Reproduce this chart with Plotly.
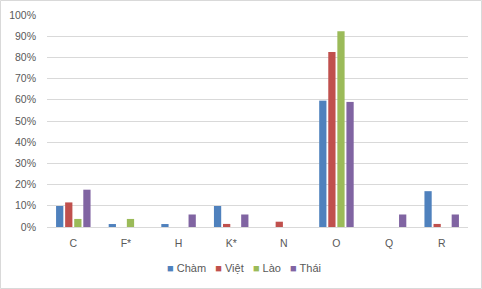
import plotly.graph_objects as go

categories = ["C", "F*", "H", "K*", "N", "O", "Q", "R"]
cham = [0.099, 0.014, 0.014, 0.099, 0.0, 0.596, 0.0, 0.169]
viet = [0.116, 0.0, 0.0, 0.0145, 0.025, 0.826, 0.0, 0.0145]
lao = [0.038, 0.038, 0.0, 0.0, 0.0, 0.923, 0.0, 0.0]
thai = [0.176, 0.0, 0.059, 0.059, 0.0, 0.59, 0.059, 0.059]
series_names = ["Chàm", "Việt", "Lào", "Thái"]
colors = ["#4F81BD", "#C0504D", "#9BBB59", "#8064A2"]
tick_vals = [i / 10 for i in range(11)]

W, H = 482, 289
ml, mr, mt, mb = 47, 14, 15, 62
pw, ph = W - ml - mr, H - mt - mb

fig = go.Figure()
for name, vals, col in zip(series_names, [cham, viet, lao, thai], colors):
    fig.add_trace(go.Bar(x=categories, y=vals, name=name, marker_color=col,
                         marker_line_width=0))

fig.update_layout(
    width=W, height=H,
    margin=dict(l=ml, r=mr, t=mt, b=mb, autoexpand=False),
    paper_bgcolor="white", plot_bgcolor="white",
    font=dict(family="Liberation Sans, Arial, sans-serif", size=10.5, color="#595959"),
    barmode="group", bargap=0.31, bargroupgap=0.2,
    showlegend=False,
    xaxis=dict(showgrid=False, showline=True, linecolor="#D9D9D9", linewidth=1,
               ticks="", automargin=False, ticklabelstandoff=6,
               tickfont=dict(size=10.5, color="#595959")),
    yaxis=dict(range=[0, 1.0], tickvals=tick_vals, tickformat=".0%",
               showgrid=True, gridcolor="#D9D9D9", gridwidth=1,
               zeroline=False, showline=False, ticks="", automargin=False,
               ticklabelstandoff=10,
               tickfont=dict(size=10.5, color="#595959")),
)

# legend drawn as text
legend_text = "   ".join(
    f"<span style='color:{c}'>■</span> {n}" for n, c in zip(series_names, colors)
)
fig.add_annotation(text=legend_text, xref="paper", yref="paper",
                   x=(244 - ml) / pw, y=-(268 - (H - mb)) / ph,
                   xanchor="center", yanchor="middle", showarrow=False,
                   font=dict(size=11, color="#595959"))

fig.add_shape(type="rect", xref="paper", yref="paper",
              x0=-(ml - 0.5) / pw, x1=(W - ml - 0.5) / pw,
              y0=-(mb - 0.5) / ph, y1=1 + (mt - 0.5) / ph,
              line=dict(color="#D9D9D9", width=1), fillcolor="rgba(0,0,0,0)",
              layer="below")

fig.write_html("out.html")
